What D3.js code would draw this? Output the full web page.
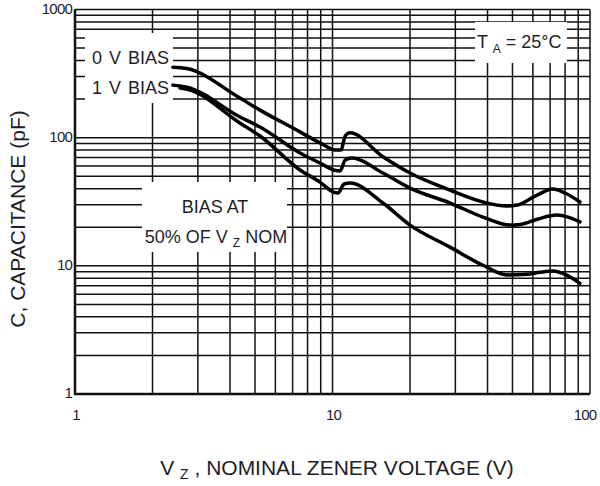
<!DOCTYPE html>
<html lang="en">

<head>
    <meta charset="UTF-8">
    <title>Capacitance vs Zener voltage</title>
    <style>
        body { margin: 0; background: #fff; }
        svg text { font-family: "Liberation Sans", Arial, sans-serif; fill: #1e1e28; }
    </style>
</head>

<body>
    <div id="workspace"></div>

    <script src="https://cdn.jsdelivr.net/npm/d3@7"></script>
    <script>
        // values (V, pF)
        const vz0V = [2.40, 2.72, 4.37, 5.23, 7.48, 8.94, 10.3, 10.8, 11.2, 11.7, 15.7, 20, 28.6, 38.4, 47.6, 52.1, 61.2, 71.8, 80, 91.4];
        const cap0V = [355, 346, 204, 164, 111, 91, 80, 80, 103, 109, 71, 53, 39, 31.5, 29.3, 29.8, 35, 39.7, 37, 31.5];

        const vz1V = [2.40, 2.72, 4.37, 5.23, 7.48, 8.94, 10.1, 10.7, 11.2, 11.9, 15.7, 20, 28.6, 38.4, 48.9, 53.5, 62.8, 74.4, 82.1, 91.4];
        const cap1V = [257, 248, 145, 121, 76, 63.4, 56, 55, 67, 69.3, 53, 40.4, 30.9, 24, 20.8, 21, 23.2, 24.9, 24, 22];

        const vzHalf = [2.56, 2.80, 4.37, 5.23, 7.48, 8.94, 10.1, 10.5, 11.1, 11.7, 15.7, 20, 28.6, 38.4, 47.6, 56.9, 63.9, 71.8, 80.7, 91.4];
        const capHalf = [244, 235, 130, 103, 56, 45, 37.6, 37, 43.5, 44.2, 30.9, 20.8, 14, 10.1, 8.5, 8.6, 8.9, 9.1, 8.5, 7.3];

        const xTicks = [1, 10, 100];
        const yTicks = [1, 10, 100, 1000];

        const width = 600, height = 486;
        const x = d3.scaleLog().domain([1, 100]).range([75, 590]);
        const y = d3.scaleLog().domain([1, 1000]).range([394, 9.5]);

        const minor = (lo, hi) => {
            const out = [];
            for (let d = lo; d < hi; d *= 10) {
                for (let m = 1; m < 10; m++) out.push(d * m);
            }
            out.push(hi);
            return out;
        };

        const svg = d3.select("#workspace").append("svg")
            .attr("width", width)
            .attr("height", height);

        const grid = svg.append("g")
            .attr("stroke", "#111")
            .attr("stroke-width", 1.5);
        grid.selectAll(".v")
            .data(minor(1, 100))
            .enter()
            .append("line")
            .attr("x1", d => x(d)).attr("x2", d => x(d))
            .attr("y1", y(1000)).attr("y2", y(1));
        grid.selectAll(".h")
            .data(minor(1, 1000))
            .enter()
            .append("line")
            .attr("x1", x(1)).attr("x2", x(100))
            .attr("y1", d => y(d)).attr("y2", d => y(d));

        // frame
        svg.append("path")
            .attr("d", `M${x(1)},${y(1000)}V${y(1)}H${x(100)}`)
            .attr("fill", "none")
            .attr("stroke", "#111")
            .attr("stroke-width", 2.5);

        // white boxes behind the annotations
        const boxes = [[85, 33, 88, 70], [142, 182, 145, 70], [475, 22, 92, 41]];
        svg.selectAll(".mask")
            .data(boxes)
            .enter()
            .append("rect")
            .attr("x", d => d[0]).attr("y", d => d[1])
            .attr("width", d => d[2]).attr("height", d => d[3])
            .attr("fill", "#fff");

        // tick labels
        svg.selectAll(".xt")
            .data(xTicks)
            .enter()
            .append("text")
            .attr("x", d => Math.min(x(d) + 1, 585))
            .attr("y", 420)
            .attr("text-anchor", "middle")
            .attr("font-size", 15)
            .attr("letter-spacing", -0.8)
            .text(d => d);
        svg.selectAll(".yt")
            .data(yTicks)
            .enter()
            .append("text")
            .attr("x", 72)
            .attr("y", d => y(d) + 4)
            .attr("text-anchor", "end")
            .attr("font-size", 15)
            .attr("letter-spacing", -0.8)
            .text(d => d);

        // axis titles
        const xt = svg.append("text")
            .attr("x", 337)
            .attr("y", 475)
            .attr("text-anchor", "middle")
            .attr("font-size", 21);
        xt.append("tspan").text("V ");
        xt.append("tspan").attr("font-size", 14).attr("dy", 4).text("Z");
        xt.append("tspan").attr("dy", -4).text(" , NOMINAL ZENER VOLTAGE (V)");

        svg.append("text")
            .attr("transform", "translate(25,219) rotate(-90)")
            .attr("text-anchor", "middle")
            .attr("font-size", 21)
            .text("C, CAPACITANCE (pF)");

        // annotations
        svg.append("text").attr("x", 92).attr("y", 64).attr("font-size", 18)
            .attr("word-spacing", 2).text("0 V BIAS");
        svg.append("text").attr("x", 92).attr("y", 94).attr("font-size", 18)
            .attr("word-spacing", 2).text("1 V BIAS");
        svg.append("text").attr("x", 215).attr("y", 213).attr("font-size", 18)
            .attr("text-anchor", "middle").text("BIAS AT");
        const half = svg.append("text").attr("x", 216).attr("y", 243).attr("font-size", 18)
            .attr("text-anchor", "middle");
        half.append("tspan").text("50% OF V ");
        half.append("tspan").attr("font-size", 12).attr("dy", 4).text("Z");
        half.append("tspan").attr("dy", -4).text(" NOM");
        const ta = svg.append("text").attr("x", 477).attr("y", 48).attr("font-size", 18);
        ta.append("tspan").text("T ");
        ta.append("tspan").attr("font-size", 12).attr("dy", 5).text("A");
        ta.append("tspan").attr("dy", -5).text(" = 25°C");

        // curves
        const line = d3.line()
            .x(d => x(d[0]))
            .y(d => y(d[1]))
            .curve(d3.curveMonotoneX);
        const series = [
            d3.zip(vz0V, cap0V),
            d3.zip(vz1V, cap1V),
            d3.zip(vzHalf, capHalf)
        ];
        svg.selectAll(".curve")
            .data(series)
            .enter()
            .append("path")
            .attr("d", d => line(d))
            .attr("fill", "none")
            .attr("stroke", "#000")
            .attr("stroke-width", 3.5)
            .attr("stroke-linecap", "round");
    </script>
</body>

</html>
